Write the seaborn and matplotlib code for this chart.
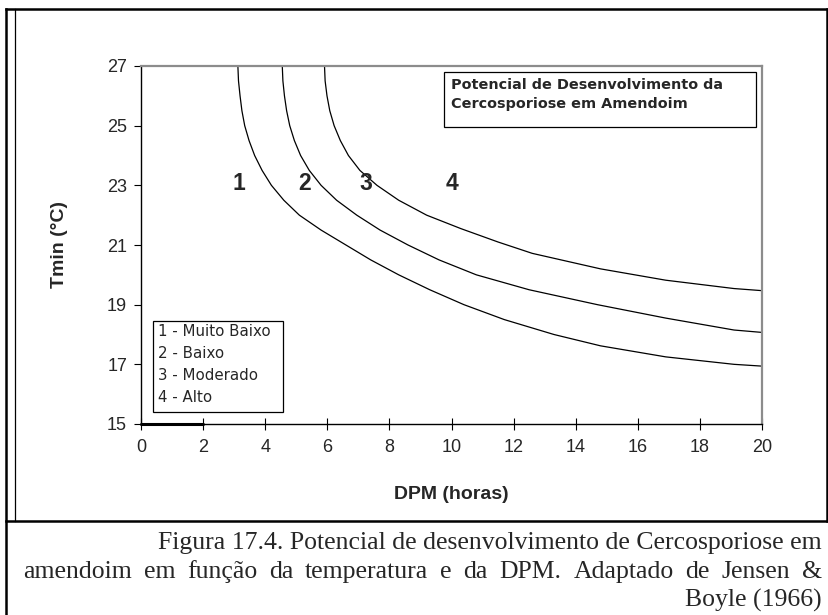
import matplotlib
matplotlib.use("Agg")
import matplotlib.pyplot as plt
import seaborn as sns
import pandas as pd
from matplotlib.patches import Rectangle
from matplotlib.lines import Line2D

# Isolines of disease development potential (Tmin vs. leaf wetness hours)
dpm_1 = [3.12, 3.14, 3.19, 3.25, 3.34, 3.48, 3.66, 3.90, 4.20, 4.60, 5.10, 5.80,
         6.60, 7.40, 8.30, 9.30, 10.4, 11.7, 13.3, 14.8, 16.9, 19.1, 20.0]
tmin_1 = [27.0, 26.5, 26.0, 25.5, 25.0, 24.5, 24.0, 23.5, 23.0, 22.5, 22.0, 21.5,
          21.0, 20.5, 20.0, 19.5, 19.0, 18.5, 18.0, 17.62, 17.25, 17.0, 16.94]

dpm_2 = [4.55, 4.57, 4.62, 4.69, 4.79, 4.94, 5.14, 5.42, 5.80, 6.30, 6.95, 7.70,
         8.60, 9.60, 10.8, 12.5, 14.7, 16.9, 19.1, 20.0]
tmin_2 = [27.0, 26.5, 26.0, 25.5, 25.0, 24.5, 24.0, 23.5, 23.0, 22.5, 22.0, 21.5,
          21.0, 20.5, 20.0, 19.5, 19.0, 18.55, 18.15, 18.07]

dpm_3 = [5.91, 5.93, 5.99, 6.08, 6.22, 6.42, 6.68, 7.05, 7.60, 8.30, 9.20, 10.3,
         11.5, 12.6, 14.8, 16.9, 19.1, 20.0]
tmin_3 = [27.0, 26.5, 26.0, 25.5, 25.0, 24.5, 24.0, 23.5, 23.0, 22.5, 22.0, 21.55,
          21.1, 20.72, 20.2, 19.82, 19.54, 19.47]

# short baseline segment drawn on the x axis
base_dpm = [0.0, 2.0]
base_tmin = [15.0, 15.0]

zone_labels = ["1", "2", "3", "4"]
zone_x = [3.15, 5.27, 7.24, 10.0]
zone_y = [23.07, 23.07, 23.07, 23.07]

legend_lines = ["1 - Muito Baixo", "2 - Baixo", "3 - Moderado", "4 - Alto"]
box_title = "Potencial de Desenvolvimento da\nCercosporiose em Amendoim"

x_ticks = [0, 2, 4, 6, 8, 10, 12, 14, 16, 18, 20]
y_ticks = [15, 17, 19, 21, 23, 25, 27]

caption_lines = [
    "Figura 17.4. Potencial de desenvolvimento de Cercosporiose em",
    "amendoim em função da temperatura e da DPM. Adaptado de Jensen &",
    "Boyle (1966)",
]

sns.set_style("ticks")
plt.rcParams["font.family"] = ["Liberation Sans", "DejaVu Sans"]

W, H = 829, 615
fig = plt.figure(figsize=(W / 100, H / 100), dpi=100)
ax = fig.add_axes([141 / W, 1 - 424 / H, 621 / W, 358 / H])

curves = pd.concat([
    pd.DataFrame({"DPM": dpm_1, "Tmin": tmin_1, "nivel": "1"}),
    pd.DataFrame({"DPM": dpm_2, "Tmin": tmin_2, "nivel": "2"}),
    pd.DataFrame({"DPM": dpm_3, "Tmin": tmin_3, "nivel": "3"}),
])
sns.lineplot(data=curves, x="DPM", y="Tmin", hue="nivel",
             palette=["black"] * 3, estimator=None, sort=False,
             linewidth=0.9, legend=False, ax=ax)
sns.lineplot(x=base_dpm, y=base_tmin, color="black", linewidth=2.2,
             estimator=None, ax=ax, clip_on=False)

ax.set_xlim(0, 20)
ax.set_ylim(15, 27)
ax.set_xticks(x_ticks)
ax.set_yticks(y_ticks)
ax.tick_params(axis="both", labelsize=13, color="black", width=0.8)
ax.tick_params(axis="x", direction="inout", length=9, pad=6)
ax.tick_params(axis="y", direction="out", length=5, pad=5)

for side in ("left", "bottom"):
    ax.spines[side].set_color("black")
    ax.spines[side].set_linewidth(1.0)
for side in ("top", "right"):
    ax.spines[side].set_visible(True)
    ax.spines[side].set_color("#8c8c8c")
    ax.spines[side].set_linewidth(1.6)

ax.set_xlabel("DPM (horas)", fontsize=14, fontweight="bold")
ax.set_ylabel("Tmin (°C)", fontsize=14, fontweight="bold")
ax.xaxis.set_label_coords(0.5, -0.172)
ax.yaxis.set_label_coords(-0.118, 0.5)

for lab, x, y in zip(zone_labels, zone_x, zone_y):
    ax.text(x, y, lab, fontsize=16.5, fontweight="bold", ha="center", va="center")

# title box
ax.add_patch(Rectangle((0.488, 0.8296), 0.502, 0.1536, transform=ax.transAxes,
                       facecolor="white", edgecolor="black", linewidth=0.9, zorder=3))
ax.text(0.4995, 0.967, box_title, transform=ax.transAxes, fontsize=10.4,
        fontweight="bold", ha="left", va="top", linespacing=1.5, zorder=4,
        family=["DejaVu Sans"])

# key box
ax.add_patch(Rectangle((0.0193, 0.0335), 0.209, 0.254, transform=ax.transAxes,
                       facecolor="white", edgecolor="black", linewidth=0.9, zorder=3))
for i, line in enumerate(legend_lines):
    ax.text((158 - 141) / 621, (424 - (332 + 22 * i)) / 358, line,
            transform=ax.transAxes, fontsize=10.8, ha="left", va="center", zorder=4,
            family=["DejaVu Sans"])

# page frame around the figure and caption
def fline(x0, y0, x1, y1, lw):
    fig.add_artist(Line2D([x0 / W, x1 / W], [1 - y0 / H, 1 - y1 / H],
                          color="black", linewidth=lw, solid_capstyle="projecting"))

fline(6, 9, 827, 9, 1.8)
fline(6, 9, 6, 615, 1.8)
fline(827, 9, 827, 521, 1.8)
fline(15, 9, 15, 521, 0.9)
fline(6, 521, 827, 521, 1.8)

# caption: first and last lines right-aligned, middle line justified
serif = ["Liberation Serif", "DejaVu Serif"]
cap_size = 18.5
cap_left, cap_right = 23, 822
cap_y = [543, 572, 600]
fig.text(cap_right / W, 1 - cap_y[0] / H, caption_lines[0], fontsize=cap_size,
         ha="right", va="center", family=serif)
fig.text(cap_right / W, 1 - cap_y[2] / H, caption_lines[2], fontsize=cap_size,
         ha="right", va="center", family=serif)

renderer = fig.canvas.get_renderer()
words = caption_lines[1].split(" ")
word_texts = [fig.text(0, 1 - cap_y[1] / H, w, fontsize=cap_size, ha="left",
                       va="center", family=serif) for w in words]
widths = [t.get_window_extent(renderer).width for t in word_texts]
gap = (cap_right - cap_left - sum(widths)) / (len(words) - 1)
xpos = cap_left
for t, w in zip(word_texts, widths):
    t.set_x(xpos / W)
    xpos += w + gap

fig.savefig("out.png", dpi=100)
